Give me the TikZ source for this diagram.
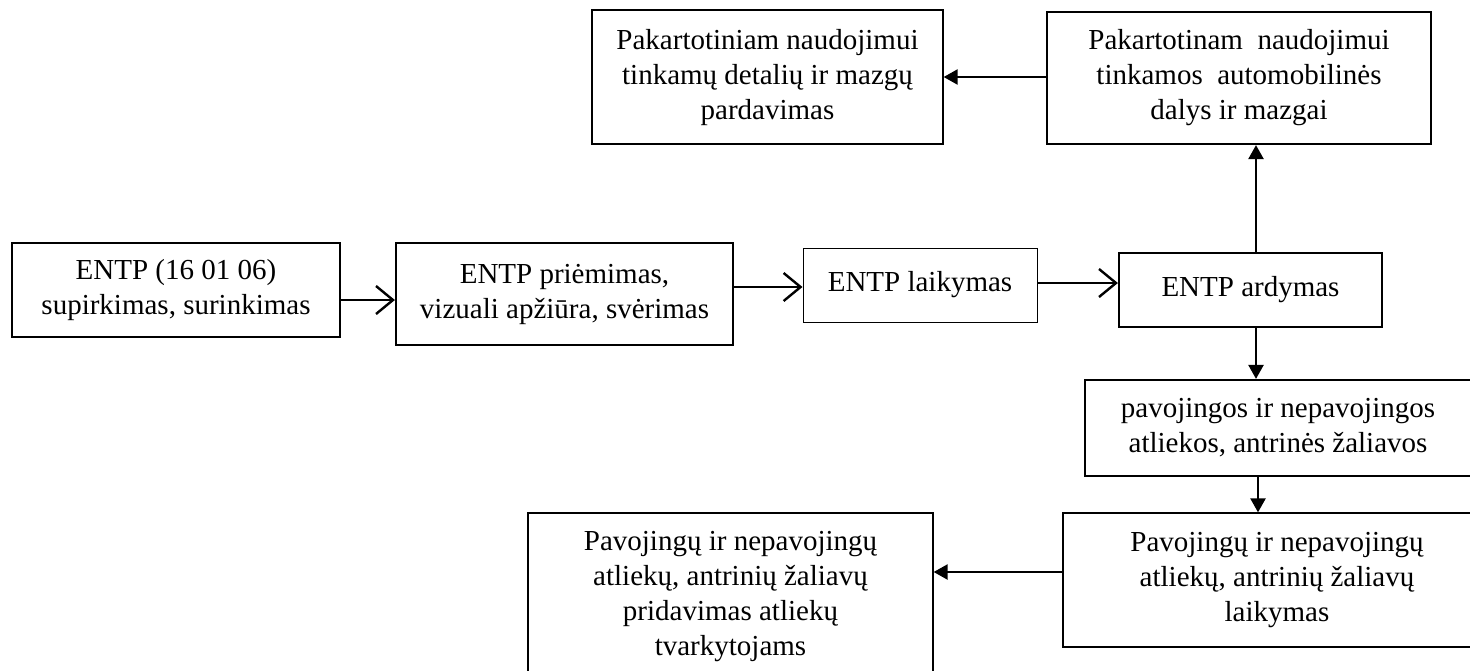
\documentclass[tikz,border=0pt]{standalone}
\usepackage{fontspec}
\setmainfont{Liberation Serif}
\usetikzlibrary{arrows.meta}
\newcommand{\raisedlines}[2]{\raisebox{#1}{\begin{tabular}{@{}c@{}}#2\end{tabular}}}
\begin{document}
\begin{tikzpicture}[x=1pt,y=-1pt,
  box/.style={draw=black, rectangle, align=center, inner sep=0pt,
    font=\fontsize{29}{35}\selectfont},
  thinbox/.style={box, line width=1.3pt},
  thickbox/.style={box, line width=2.2pt},
  openarr/.style={line width=2.4pt, -{Straight Barb[length=17pt,width=28pt,line width=2.4pt]}},
  fillarr/.style={line width=2.4pt, -{Triangle[length=14pt,width=15pt]}}]
\useasboundingbox (0,0) rectangle (1470,670);
\clip (0,0) rectangle (1470,670);
\node[thinbox, minimum width=351pt, minimum height=134pt] (t1) at (767.5,77)
  {\raisedlines{4pt}{Pakartotiniam naudojimui\\tinkamų detalių ir mazgų\\pardavimas}};
\node[thickbox, minimum width=384pt, minimum height=132pt] (t2) at (1239,78)
  {Pakartotinam~ naudojimui\\tinkamos~ automobilinės\\dalys ir mazgai};
\node[thinbox, minimum width=328pt, minimum height=94pt] (e1) at (176,290)
  {ENTP (16 01 06)\\supirkimas, surinkimas};
\node[thickbox, minimum width=337pt, minimum height=102pt] (e2) at (564.5,294)
  {\raisedlines{5pt}{ENTP priėmimas,\\vizuali apžiūra, svėrimas}};
\node[thinbox, line width=1pt, minimum width=234pt, minimum height=74pt] (e3) at (920,285)
  {\raisebox{8pt}{ENTP laikymas}};
\node[thickbox, minimum width=263pt, minimum height=74pt] (e4) at (1250.5,290)
  {\raisebox{6pt}{ENTP ardymas}};
\node[thickbox, minimum width=386pt, minimum height=96pt] (p1) at (1278,428)
  {pavojingos ir nepavojingos\\atliekos, antrinės žaliavos};
\node[thinbox, minimum width=428pt, minimum height=134pt] (p2) at (1277,580)
  {Pavojingų ir nepavojingų\\atliekų, antrinių žaliavų\\laikymas};
\node[thinbox, minimum width=405pt, minimum height=168pt] (b1) at (730.5,597)
  {Pavojingų ir nepavojingų\\atliekų, antrinių žaliavų\\pridavimas atliekų\\tvarkytojams};
\draw[openarr] (e1.east |- 0,300) -- (e2.west |- 0,300);
\draw[openarr] (e2.east |- 0,287) -- (e3.west |- 0,287);
\draw[openarr] (e3.east |- 0,283) -- (e4.west |- 0,283);
\draw[fillarr] (e4.north -| 1256,0) -- (t2.south -| 1256,0);
\draw[fillarr] (t2.west |- 0,77) -- (t1.east |- 0,77);
\draw[fillarr] (e4.south -| 1256,0) -- (p1.north -| 1256,0);
\draw[fillarr] (p1.south -| 1258,0) -- (p2.north -| 1258,0);
\draw[fillarr] (p2.west |- 0,572) -- (b1.east |- 0,572);
\end{tikzpicture}
\end{document}
